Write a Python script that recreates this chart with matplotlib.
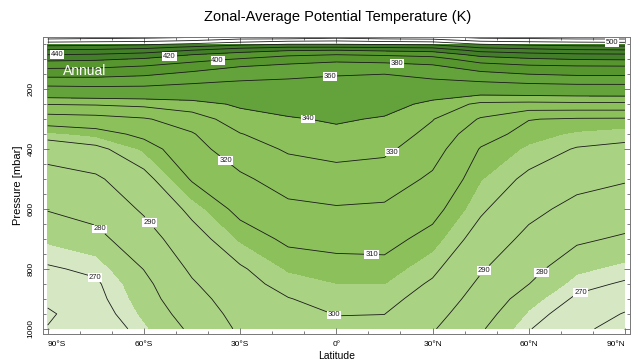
import numpy as np
import matplotlib.pyplot as plt

plt.rcParams['font.family'] = ['Liberation Sans', 'DejaVu Sans']

# latitude (deg) and pressure (mbar) grid, potential temperature (K)
latitudes = [-90, -75, -60, -45, -30, -15, 0, 15, 30, 45, 60, 75, 90]
pressures = [1000, 950, 900, 850, 800, 700, 600, 500, 400, 350, 300, 250,
             200, 175, 150, 125, 100, 85, 70, 60, 50, 40, 30, 25]
theta = [
    [260.5, 264.0, 273.0, 281.5, 291.5, 295.0, 298.0, 297.7, 290.8, 281.0, 270.5, 262.6, 255.5],
    [258.5, 266.5, 275.0, 283.7, 293.4, 296.8, 300.3, 300.1, 293.5, 283.5, 273.3, 265.7, 259.4],
    [262.3, 268.0, 276.5, 286.3, 295.3, 299.7, 302.6, 302.6, 296.2, 286.0, 276.2, 268.9, 264.2],
    [265.8, 269.0, 277.8, 289.0, 297.2, 302.6, 304.9, 305.0, 298.9, 288.4, 280.1, 272.0, 269.2],
    [269.2, 271.3, 280.2, 291.5, 299.0, 305.6, 307.2, 307.6, 301.7, 290.9, 282.5, 275.1, 272.5],
    [274.9, 277.5, 285.7, 296.3, 305.7, 311.6, 312.6, 312.7, 307.3, 296.3, 287.5, 281.3, 278.9],
    [280.4, 283.0, 291.3, 302.2, 312.5, 317.8, 319.2, 318.5, 312.8, 301.3, 292.7, 287.1, 284.9],
    [285.9, 288.4, 297.1, 310.8, 318.2, 324.3, 326.0, 325.1, 318.3, 305.3, 298.2, 293.2, 290.8],
    [294.3, 297.8, 305.9, 316.4, 325.5, 331.1, 333.2, 331.9, 324.2, 309.4, 304.0, 299.4, 298.0],
    [303.7, 306.4, 312.1, 319.2, 329.6, 334.9, 337.1, 335.3, 327.2, 313.8, 307.0, 304.1, 302.5],
    [315.0, 316.2, 319.0, 325.0, 335.2, 338.8, 341.5, 338.8, 330.4, 319.1, 310.3, 309.0, 308.8],
    [330.3, 330.9, 332.4, 335.6, 341.8, 345.5, 347.8, 344.8, 336.9, 327.8, 326.9, 327.4, 327.5],
    [352.9, 354.3, 354.3, 353.1, 353.2, 353.5, 354.0, 352.4, 348.5, 347.8, 349.5, 350.5, 350.8],
    [370.0, 370.6, 368.6, 362.5, 358.9, 357.6, 357.1, 356.2, 356.7, 360.0, 363.3, 365.2, 365.2],
    [386.7, 386.5, 383.0, 375.0, 368.9, 364.2, 360.9, 360.0, 366.0, 374.3, 380.0, 382.9, 383.0],
    [404.0, 403.0, 398.2, 389.4, 380.0, 374.6, 371.5, 371.9, 376.0, 390.0, 395.6, 397.6, 398.2],
    [425.0, 423.0, 417.6, 407.0, 398.5, 390.0, 385.0, 387.6, 392.0, 410.0, 417.1, 421.0, 422.0],
    [440.0, 438.0, 432.6, 420.0, 411.3, 403.5, 400.0, 402.7, 406.3, 426.3, 432.6, 436.0, 437.0],
    [457.6, 456.0, 451.4, 440.0, 428.3, 421.8, 420.0, 423.6, 426.7, 446.7, 452.3, 456.9, 458.5],
    [472.3, 470.8, 466.7, 456.7, 446.0, 440.0, 440.0, 442.0, 444.0, 463.3, 468.3, 472.3, 473.8],
    [488.3, 486.7, 483.6, 476.0, 466.0, 460.0, 460.0, 462.0, 464.0, 480.0, 485.5, 488.3, 490.0],
    [505.0, 503.0, 501.5, 496.0, 486.7, 480.0, 478.0, 482.0, 484.4, 500.0, 503.0, 505.0, 506.0],
    [525.0, 522.0, 520.0, 515.0, 505.0, 505.0, 500.0, 505.0, 507.0, 520.0, 522.0, 525.0, 525.0],
    [535.0, 532.0, 530.0, 525.0, 515.0, 515.0, 510.0, 515.0, 517.0, 530.0, 532.0, 535.0, 535.0],
]

line_levels = [260, 270, 280, 290, 300, 310, 320, 330, 340,
               360, 380, 400, 420, 440, 460, 480, 500, 520]
fill_levels = [240, 274, 305, 340, 380, 420, 600]
fill_colors = ['#d5e8c3', '#aad283', '#8bc05b', '#64a23b', '#57962f', '#437f28']

lat_ticks = [-90, -60, -30, 0, 30, 60, 90]
lat_labels = ['90°S', '60°S', '30°S', '0°', '30°N', '60°N', '90°N']
p_ticks = [200, 400, 600, 800, 1000]

# where the contour labels sit (lat, mbar)
label_spots = [(-75, 818), (-73, 657), (-58, 643), (-34, 430), (-9, 305),
               (-1, 962), (11, 750), (18, 420), (-2, 155), (19, 110),
               (-37, 106), (-52, 95), (-87, 83), (86, 44), (46, 805),
               (64, 812), (76, 872)]

lat = np.array(latitudes)
p = np.array(pressures)
th = np.array(theta)
filled = p >= 50

fig = plt.figure(figsize=(6.4, 3.63), dpi=100)
ax = fig.add_axes([0.067, 0.08, 0.917, 0.818])

ax.contourf(lat, p[filled], th[filled], levels=fill_levels, colors=fill_colors)
cs = ax.contour(lat, p, th, levels=line_levels, colors='#1a1a1a', linewidths=0.6)
texts = ax.clabel(cs, manual=label_spots, fmt='%d', fontsize=5.5, inline=True,
                  inline_spacing=1)
for t in texts:
    t.set_rotation(0)
    t.set_bbox(dict(facecolor='white', edgecolor='none', pad=0.6))
    t.set_color('#222222')

ax.text(0.034, 0.885, 'Annual', transform=ax.transAxes, color='white',
        fontsize=10, ha='left', va='center')

ax.set_xlim(-91.5, 91.5)
ax.set_ylim(1017, 26)
ax.set_xticks(lat_ticks)
ax.set_xticklabels(lat_labels)
ax.set_xticks(range(-90, 91, 10), minor=True)
ax.set_yticks(p_ticks)
ax.set_yticks(range(50, 1001, 50), minor=True)
ax.tick_params(which='both', direction='in', top=True, right=True,
               color='#666666', labelsize=6, width=0.6)
ax.tick_params(which='major', length=4)
ax.tick_params(which='minor', length=2)
ax.tick_params(axis='x', pad=5)
ax.tick_params(axis='y', pad=6)
plt.setp(ax.get_yticklabels(), rotation=90, va='center')
xl = ax.get_xticklabels()
xl[0].set_ha('left')
xl[-1].set_ha('right')
for s in ax.spines.values():
    s.set_color('#777777')
    s.set_linewidth(0.7)

ax.set_xlabel('Latitude', fontsize=7.5, va='center')
ax.xaxis.set_label_coords(0.5, -0.075)
ax.set_ylabel('Pressure [mbar]', fontsize=8, labelpad=3)
fig.text(0.528, 0.953, 'Zonal-Average Potential Temperature (K)',
         ha='center', va='center', fontsize=10.5)

fig.savefig('out.png', dpi=100)
